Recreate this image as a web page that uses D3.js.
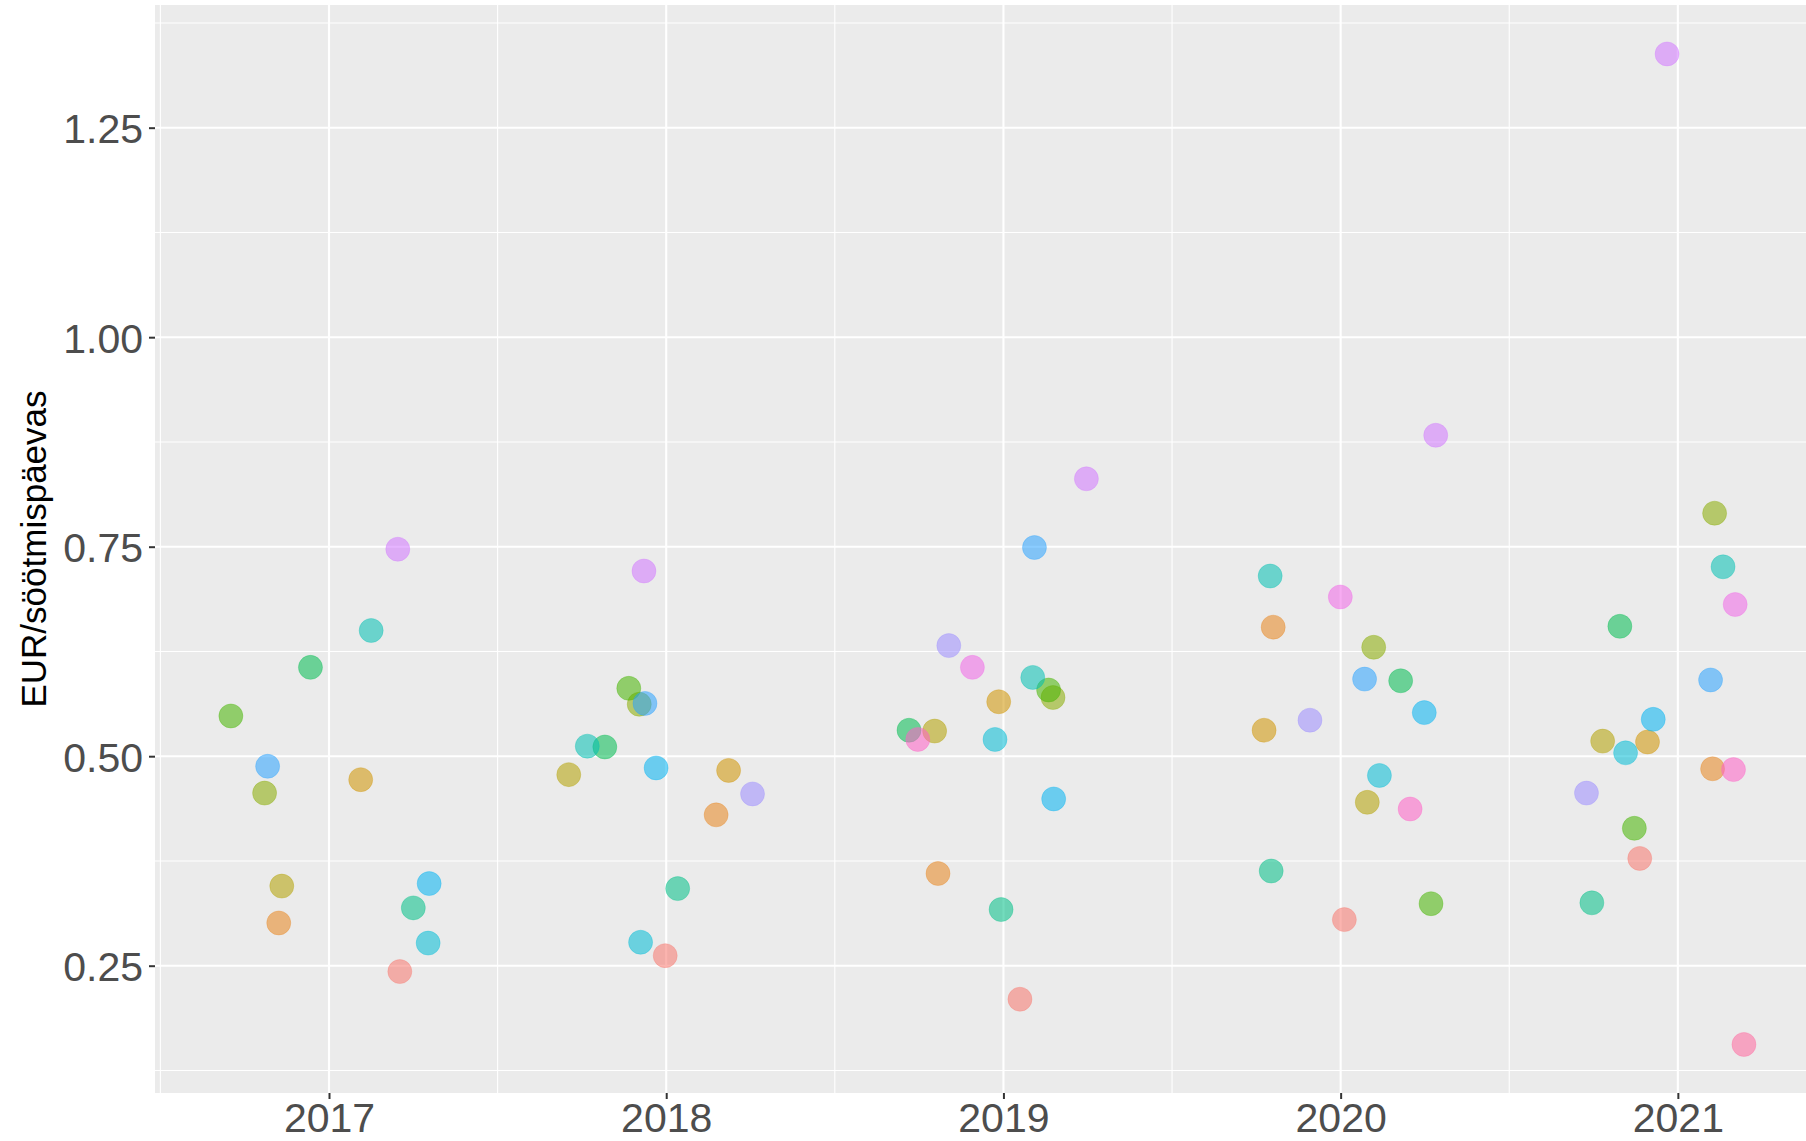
<!DOCTYPE html>
<html>
<head>
<meta charset="utf-8">
<script src="https://cdn.jsdelivr.net/npm/d3@7"></script>
<style>
    body { margin: 0; background: #fff; }
    svg text { font-family: "Liberation Sans", Arial, sans-serif; }
</style>
</head>
<body>
<div id="chart"></div>
<script>
// years on the x axis
const years = [2017, 2018, 2019, 2020, 2021];
// 17 groups, coloured with the default ggplot hue palette
const groupIds = [0, 1, 2, 3, 4, 5, 6, 7, 8, 9, 10, 11, 12, 13, 14, 15, 16];
const yTicks = [0.25, 0.50, 0.75, 1.00, 1.25];

// per year: group index, horizontal jitter (in years) and value (EUR per feeding day)
const groups2017 = [0, 1, 2, 3, 4, 5, 6, 7, 8, 9, 10, 11, 13];
const jitter2017 = [0.210, -0.149, 0.094, -0.140, -0.191, -0.291, -0.055, 0.250, 0.125, 0.294, 0.297, -0.182, 0.204];
const values2017 = [0.243, 0.301, 0.472, 0.345, 0.456, 0.548, 0.606, 0.319, 0.650, 0.277, 0.348, 0.488, 0.747];

const groups2018 = [0, 1, 2, 3, 4, 5, 6, 7, 8, 9, 10, 11, 12, 13];
const jitter2018 = [-0.003, 0.148, 0.185, -0.289, -0.080, -0.111, -0.182, 0.034, -0.234, -0.076, -0.030, -0.063, 0.256, -0.066];
const values2018 = [0.262, 0.430, 0.483, 0.478, 0.562, 0.581, 0.511, 0.342, 0.512, 0.278, 0.486, 0.563, 0.455, 0.721];

const groups2019 = [0, 1, 2, 3, 4, 5, 6, 7, 8, 9, 10, 11, 12, 13, 14, 15];
const jitter2019 = [0.049, -0.194, -0.014, -0.204, 0.147, 0.134, -0.280, -0.007, 0.087, -0.025, 0.149, 0.092, -0.162, 0.246, -0.092, -0.254];
const values2019 = [0.210, 0.360, 0.565, 0.530, 0.570, 0.579, 0.531, 0.317, 0.594, 0.520, 0.449, 0.749, 0.632, 0.831, 0.606, 0.520];

const groups2020 = [0, 1, 2, 3, 4, 5, 6, 7, 8, 9, 10, 11, 12, 13, 14, 15];
const jitter2020 = [0.011, -0.200, -0.227, 0.079, 0.098, 0.268, 0.178, -0.206, -0.209, 0.115, 0.248, 0.071, -0.091, 0.282, -0.001, 0.206];
const values2020 = [0.305, 0.654, 0.531, 0.445, 0.630, 0.324, 0.590, 0.363, 0.715, 0.477, 0.552, 0.592, 0.543, 0.883, 0.690, 0.437];

const groups2021 = [0, 1, 2, 3, 4, 5, 6, 7, 8, 9, 10, 11, 12, 13, 14, 15, 16];
const jitter2021 = [-0.113, 0.103, -0.090, -0.223, 0.109, -0.129, -0.172, -0.255, 0.134, -0.155, -0.073, 0.097, -0.271, -0.032, 0.170, 0.165, 0.196];
const values2021 = [0.378, 0.485, 0.517, 0.518, 0.790, 0.414, 0.655, 0.325, 0.726, 0.504, 0.544, 0.591, 0.456, 1.338, 0.681, 0.484, 0.156];

// R's hcl() (polar CIE-Luv) -> sRGB, used to rebuild ggplot's hue palette
function hclColor(h, c, l) {
    const Xn = 95.047, Yn = 100, Zn = 108.883;
    const un = 4 * Xn / (Xn + 15 * Yn + 3 * Zn), vn = 9 * Yn / (Xn + 15 * Yn + 3 * Zn);
    const hr = h * Math.PI / 180;
    const U = c * Math.cos(hr), V = c * Math.sin(hr);
    const Y = Yn * (l > 7.999592 ? Math.pow((l + 16) / 116, 3) : l / 903.3);
    const u = U / (13 * l) + un, v = V / (13 * l) + vn;
    const X = 9 * Y * u / (4 * v);
    const Z = -X / 3 - 5 * Y + 3 * Y / v;
    const lin = [
        3.240479 * X - 1.537150 * Y - 0.498535 * Z,
        -0.969256 * X + 1.875992 * Y + 0.041556 * Z,
        0.055648 * X - 0.204043 * Y + 1.057311 * Z
    ].map(t => t / 100);
    const gam = t => t <= 0.0031308 ? 12.92 * t : 1.055 * Math.pow(t, 1 / 2.4) - 0.055;
    const [r, g, b] = lin.map(t => Math.max(0, Math.min(255, Math.round(255 * gam(t)))));
    return d3.rgb(r, g, b).formatHex();
}

class JitterPlot {

    constructor(_config, data) {
        this.config = {
            parentElement: _config.parentElement,
            containerWidth: 1806,
            containerHeight: 1141,
            margin: { top: 5, right: 0, bottom: 48, left: 155 }
        };
        this.data = data;
        this.initVis();
    }

    initVis() {
        let vis = this;
        vis.width = vis.config.containerWidth - vis.config.margin.left - vis.config.margin.right;
        vis.height = vis.config.containerHeight - vis.config.margin.top - vis.config.margin.bottom;

        vis.svg = d3.select(vis.config.parentElement)
            .append('svg')
            .attr('width', vis.config.containerWidth)
            .attr('height', vis.config.containerHeight);

        vis.chart = vis.svg.append('g')
            .attr('transform', `translate(${vis.config.margin.left},${vis.config.margin.top})`);

        // scales (panel limits include ggplot's expansion)
        vis.xScale = d3.scaleLinear().domain([2016.484, 2021.380]).range([0, vis.width]);
        vis.yScale = d3.scaleLinear().domain([0.0981, 1.3964]).range([vis.height, 0]);

        const n = groupIds.length;
        vis.colorScale = d3.scaleOrdinal()
            .domain(groupIds)
            .range(groupIds.map(i => hclColor(15 + i * 360 / n, 100, 65)));

        vis.updateVis();
    }

    updateVis() {
        let vis = this;
        vis.xMajor = years;
        vis.xMinor = years.slice(0, -1).map(y => y + 0.5).concat([years[0] - 0.5]);
        vis.yMajor = yTicks;
        vis.yMinor = yTicks.map(v => v - 0.125).concat([yTicks[yTicks.length - 1] + 0.125]);
        vis.renderVis();
    }

    renderVis() {
        let vis = this;

        // grey panel
        vis.chart.append('rect')
            .attr('width', vis.width)
            .attr('height', vis.height)
            .attr('fill', '#EBEBEB');

        // grid lines, minor first
        const grid = vis.chart.append('g');
        grid.selectAll('.y-minor').data(vis.yMinor).join('line')
            .attr('x1', 0).attr('x2', vis.width)
            .attr('y1', d => vis.yScale(d)).attr('y2', d => vis.yScale(d))
            .attr('stroke', '#fff').attr('stroke-width', 1.1);
        grid.selectAll('.x-minor').data(vis.xMinor).join('line')
            .attr('y1', 0).attr('y2', vis.height)
            .attr('x1', d => vis.xScale(d)).attr('x2', d => vis.xScale(d))
            .attr('stroke', '#fff').attr('stroke-width', 1.1);
        grid.selectAll('.y-major').data(vis.yMajor).join('line')
            .attr('x1', 0).attr('x2', vis.width)
            .attr('y1', d => vis.yScale(d)).attr('y2', d => vis.yScale(d))
            .attr('stroke', '#fff').attr('stroke-width', 2.1);
        grid.selectAll('.x-major').data(vis.xMajor).join('line')
            .attr('y1', 0).attr('y2', vis.height)
            .attr('x1', d => vis.xScale(d)).attr('x2', d => vis.xScale(d))
            .attr('stroke', '#fff').attr('stroke-width', 2.1);

        // points
        vis.chart.append('g').selectAll('circle')
            .data(vis.data)
            .join('circle')
            .attr('cx', d => vis.xScale(d.x))
            .attr('cy', d => vis.yScale(d.value))
            .attr('r', 12)
            .attr('fill', d => vis.colorScale(d.group))
            .attr('fill-opacity', 0.55)
            .attr('stroke', d => vis.colorScale(d.group))
            .attr('stroke-opacity', 0.3)
            .attr('stroke-width', 1);

        // axes
        const xAxis = d3.axisBottom(vis.xScale)
            .tickValues(years)
            .tickFormat(d3.format('d'))
            .tickSize(6)
            .tickPadding(4);
        const yAxis = d3.axisLeft(vis.yScale)
            .tickValues(yTicks)
            .tickFormat(d3.format('.2f'))
            .tickSize(6)
            .tickPadding(6);

        const xg = vis.chart.append('g')
            .attr('transform', `translate(0,${vis.height})`)
            .call(xAxis);
        const yg = vis.chart.append('g').call(yAxis);

        [xg, yg].forEach(g => {
            g.select('.domain').remove();
            g.selectAll('.tick line').attr('stroke', '#333333').attr('stroke-width', 2);
            g.selectAll('.tick text')
                .attr('fill', '#4D4D4D')
                .style('font-size', '41px');
        });
        yg.selectAll('.tick text').attr('dy', '0.37em');

        // y axis title
        vis.svg.append('text')
            .attr('transform', `translate(46,${vis.config.margin.top + vis.height / 2}) rotate(-90)`)
            .attr('text-anchor', 'middle')
            .attr('fill', '#000')
            .style('font-size', '35px')
            .text('EUR/söötmispäevas');
    }
}

// flatten the per-year arrays into one list of points
const perYear = [
    [groups2017, jitter2017, values2017],
    [groups2018, jitter2018, values2018],
    [groups2019, jitter2019, values2019],
    [groups2020, jitter2020, values2020],
    [groups2021, jitter2021, values2021]
];
const points = [];
perYear.forEach(([g, j, v], i) => {
    g.forEach((grp, k) => points.push({ year: years[i], group: grp, x: years[i] + j[k], value: v[k] }));
});

let plot = new JitterPlot({ parentElement: '#chart' }, points);
</script>
</body>
</html>
